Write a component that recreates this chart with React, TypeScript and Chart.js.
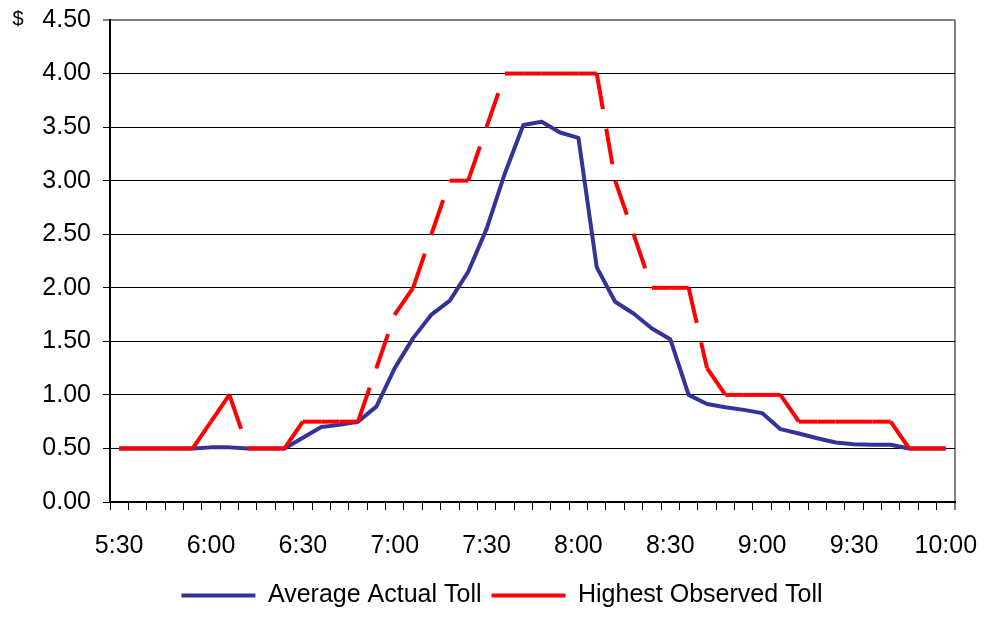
import { useEffect, useRef } from "react";
import { Chart, registerables } from "chart.js";

Chart.register(...registerables);

const FONT = '"Liberation Sans", Arial, Helvetica, sans-serif';

// 6-minute intervals, 5:30 to 10:00
const times = [
  "5:30", "5:36", "5:42", "5:48", "5:54",
  "6:00", "6:06", "6:12", "6:18", "6:24",
  "6:30", "6:36", "6:42", "6:48", "6:54",
  "7:00", "7:06", "7:12", "7:18", "7:24",
  "7:30", "7:36", "7:42", "7:48", "7:54",
  "8:00", "8:06", "8:12", "8:18", "8:24",
  "8:30", "8:36", "8:42", "8:48", "8:54",
  "9:00", "9:06", "9:12", "9:18", "9:24",
  "9:30", "9:36", "9:42", "9:48", "9:54",
  "10:00",
];

const shownTimes = ["5:30", "6:00", "6:30", "7:00", "7:30", "8:00", "8:30", "9:00", "9:30", "10:00"];

const averageActualToll = [
  0.5, 0.5, 0.5, 0.5, 0.5,
  0.51, 0.51, 0.5, 0.5, 0.5,
  0.6, 0.7, 0.72, 0.75, 0.89,
  1.25, 1.53, 1.75, 1.88, 2.15,
  2.55, 3.07, 3.52, 3.55, 3.45,
  3.4, 2.19, 1.87, 1.76, 1.62,
  1.52, 1.0, 0.915, 0.885, 0.86,
  0.83, 0.68, 0.64, 0.595, 0.555,
  0.54, 0.535, 0.535, 0.5, 0.5,
  0.5,
];

const highestObservedToll = [
  0.5, 0.5, 0.5, 0.5, 0.5,
  0.75, 1.0, 0.5, 0.5, 0.5,
  0.75, 0.75, 0.75, 0.75, 1.25,
  1.75, 2.0, 2.5, 3.0, 3.0,
  3.5, 4.0, 4.0, 4.0, 4.0,
  4.0, 4.0, 3.0, 2.5, 2.0,
  2.0, 2.0, 1.25, 1.0, 1.0,
  1.0, 1.0, 0.75, 0.75, 0.75,
  0.75, 0.75, 0.75, 0.5, 0.5,
  0.5,
];

const seriesNames = ["Average Actual Toll", "Highest Observed Toll"];
const yMin = 0;
const yMax = 4.5;
const yStep = 0.5;

const DASH = [36, 20];
const DASH_PERIOD = 56;

const dollarPlugin = {
  id: "dollarSign",
  afterDraw(chart: any) {
    const ctx = chart.ctx;
    ctx.save();
    ctx.font = `20px ${FONT}`;
    ctx.fillStyle = "#000";
    ctx.textAlign = "left";
    ctx.textBaseline = "alphabetic";
    ctx.fillText("$", 12.5, 25);
    ctx.restore();
  },
};

export default function App() {
  const canvasRef = useRef<HTMLCanvasElement | null>(null);

  useEffect(() => {
    if (!canvasRef.current) return;
    const chart = new Chart(canvasRef.current, {
      type: "line",
      data: {
        labels: times,
        datasets: [
          {
            label: seriesNames[0],
            data: averageActualToll,
            borderColor: "#333399",
            backgroundColor: "#333399",
            borderWidth: 4,
            borderJoinStyle: "round",
            pointRadius: 0,
            tension: 0,
            order: 2,
            yAxisID: "y",
          },
          {
            label: seriesNames[1],
            data: highestObservedToll,
            borderColor: "#FF0000",
            backgroundColor: "#FF0000",
            borderWidth: 4,
            borderDash: DASH,
            borderCapStyle: "butt",
            pointRadius: 0,
            tension: 0,
            order: 1,
            yAxisID: "y",
            segment: {
              // restart the dash pattern at every vertex (as the original does)
              borderDashOffset: (ctx: any) => ctx.p0DataIndex * DASH_PERIOD,
            },
          },
        ],
      },
      options: {
        responsive: false,
        animation: false,
        devicePixelRatio: 1,
        layout: { padding: { top: 20, right: 0, bottom: 0, left: 20 } },
        plugins: {
          tooltip: { enabled: false },
          legend: {
            position: "bottom",
            labels: {
              usePointStyle: true,
              pointStyle: "line",
              pointStyleWidth: 74,
              padding: 10,
              color: "#000",
              font: { family: FONT, size: 25 },
              sort: (a: any, b: any) => a.datasetIndex - b.datasetIndex,
              generateLabels: (c: any) => {
                const items = (Chart as any).defaults.plugins.legend.labels.generateLabels(c);
                return items.map((it: any) =>
                  it.datasetIndex === 1 ? { ...it, lineDashOffset: 18, lineCap: "butt" } : it
                );
              },
            },
          },
        },
        scales: {
          x: {
            type: "category",
            offset: true,
            grid: {
              offset: true,
              drawOnChartArea: true,
              color: (ctx: any) => (ctx.type === "tick" ? "rgba(0,0,0,0)" : "#808080"),
              lineWidth: (ctx: any) => (ctx.type === "tick" ? 1 : 2),
              tickColor: "#000",
              tickWidth: 1,
              tickLength: 8,
            },
            border: { color: "#000", width: 2 },
            ticks: {
              autoSkip: false,
              maxRotation: 0,
              minRotation: 0,
              padding: 21,
              color: "#000",
              font: { family: FONT, size: 25 },
              callback: (_v: any, index: number) =>
                shownTimes.includes(times[index]) ? times[index] : "",
            },
            afterFit: (s: any) => {
              s.height = 71;
              s.paddingLeft = 0;
              s.paddingRight = 0;
            },
          },
          y: {
            position: "left",
            min: yMin,
            max: yMax,
            ticks: {
              stepSize: yStep,
              padding: 12,
              color: "#000",
              font: { family: FONT, size: 25 },
              callback: (v: any) => Number(v).toFixed(2),
            },
            grid: {
              color: (ctx: any) => (ctx.tick && ctx.tick.value === yMax ? "#808080" : "#000"),
              lineWidth: (ctx: any) => (ctx.tick && ctx.tick.value === yMax ? 2 : 1),
              tickColor: "#000",
              tickWidth: 1,
              tickLength: 7,
            },
            border: { color: "#000", width: 2 },
            afterFit: (s: any) => {
              s.width = 90;
              s.paddingTop = 0;
              s.paddingBottom = 0;
            },
          },
          // empty right-hand spacer (reserves the margin right of the plot)
          yRight: {
            position: "right",
            min: yMin,
            max: yMax,
            grid: { display: false },
            border: { display: false },
            ticks: { display: false },
            afterFit: (s: any) => {
              s.width = 29;
              s.paddingTop = 0;
              s.paddingBottom = 0;
            },
          },
        },
      },
      plugins: [dollarPlugin],
    } as any);
    return () => chart.destroy();
  }, []);

  return (
    <div style={{ position: "absolute", left: 0, top: 0, width: 984, height: 618, background: "#fff" }}>
      <canvas ref={canvasRef} width={984} height={618} style={{ width: 984, height: 618, display: "block" }} />
    </div>
  );
}
